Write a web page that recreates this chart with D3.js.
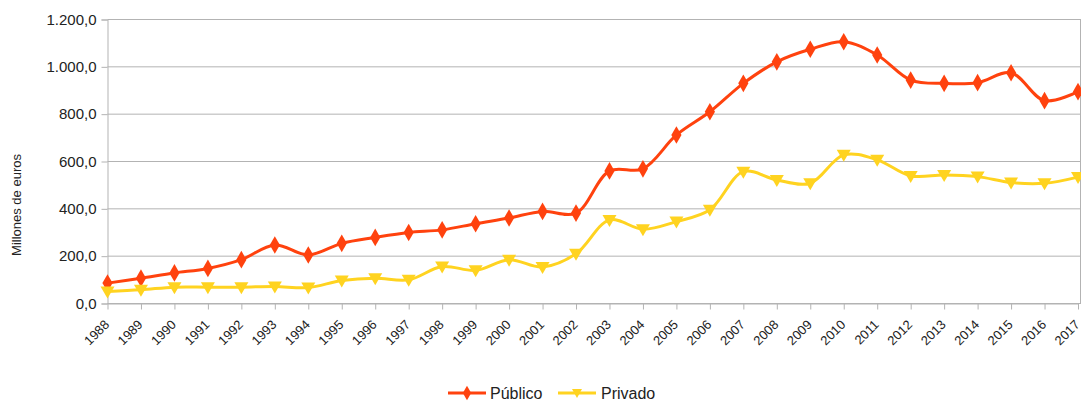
<!DOCTYPE html>
<html><head><meta charset="utf-8">
<script src="https://cdn.jsdelivr.net/npm/d3@7"></script>
<style>body{margin:0;background:#fff}svg{display:block;font-family:"Liberation Sans",Arial,sans-serif}</style>
</head><body><svg id="c" width="1081" height="406"></svg>
<script>
const years = d3.range(1988, 2018).map(String);
const publico = [84,105,127,146,183,245,203,252,277,298,309,335,359,387,380,558,567,710,808,928,1019,1072,1104,1048,942,928,931,973,855,893];
const privado = [49,56,67,67,67,70,65,95,105,98,154,138,183,152,208,351,312,344,394,555,520,506,626,605,537,541,534,509,506,532];
const yTicks = [0,200,400,600,800,1000,1200];
const seriesNames = ["Público","Privado"];
const colors = ["#ff420e","#ffd320"];

const svg = d3.select("#c");
const x = d3.scalePoint().domain(years).range([107.5, 1078]);
const y = d3.scaleLinear().domain([0,1200]).range([303, 19]);
const fmt = v => d3.formatLocale({decimal:",",thousands:".",grouping:[3]}).format(",.1f")(v);

// grid
svg.append("g").selectAll("line").data(yTicks).join("line")
  .attr("x1",107.5).attr("x2",1081).attr("y1",d=>y(d)+0.5).attr("y2",d=>y(d)+0.5)
  .attr("stroke","#b3b3b3").attr("stroke-width",1);
svg.append("line").attr("x1",1080.5).attr("x2",1080.5).attr("y1",y(1200)).attr("y2",y(0)).attr("stroke","#b3b3b3");

// y axis
const ya = svg.append("g").attr("transform","translate(107.5,0.5)")
  .call(d3.axisLeft(y).tickValues(yTicks).tickFormat(fmt).tickSize(6).tickPadding(5));
ya.select(".domain").attr("stroke","#b3b3b3");
ya.selectAll(".tick line").attr("stroke","#b3b3b3");
ya.selectAll("text").attr("font-size",15).attr("fill","#222").attr("font-family","Liberation Sans, Arial, sans-serif");

// x axis
const xa = svg.append("g").attr("transform","translate(0,303.5)")
  .call(d3.axisBottom(x).tickSize(6).tickSizeOuter(0));
xa.select(".domain").attr("stroke","#b3b3b3");
xa.selectAll(".tick line").attr("stroke","#b3b3b3");
xa.selectAll("text").attr("font-size",13).attr("fill","#222").attr("font-family","Liberation Sans, Arial, sans-serif")
  .attr("text-anchor","end").attr("dy",null).attr("y",0)
  .attr("transform","translate(2,22) rotate(-45)");

// y label
svg.append("text").attr("transform","translate(21,205) rotate(-90)").attr("text-anchor","middle")
  .attr("font-size",13).attr("fill","#222").text("Millones de euros");

const line = d3.line().x((d,i)=>x(years[i])).y(d=>y(d)).curve(d3.curveCatmullRom.alpha(0.5));
const diamond = d3.symbol().type(d3.symbolDiamond).size(90)();
const tri = "M-7,-5L7,-5L0,7Z";

[publico, privado].forEach((s,k)=>{
  svg.append("path").attr("d",line(s)).attr("fill","none").attr("stroke",colors[k]).attr("stroke-width",3);
  svg.append("g").selectAll("path").data(s).join("path")
    .attr("transform",(d,i)=>`translate(${x(years[i])},${y(d)})`)
    .attr("d", k===0 ? diamond : tri).attr("fill",colors[k]);
});

// legend
const leg = [{x0:448, tx:490},{x0:558, tx:601}];
leg.forEach((l,k)=>{
  const g = svg.append("g");
  g.append("line").attr("x1",l.x0).attr("x2",l.x0+38).attr("y1",393).attr("y2",393).attr("stroke",colors[k]).attr("stroke-width",3);
  g.append("path").attr("transform",`translate(${l.x0+19},393)`).attr("d", k===0?d3.symbol().type(d3.symbolDiamond).size(60)():"M-5,-4L5,-4L0,5Z").attr("fill",colors[k]);
  g.append("text").attr("x",l.tx).attr("y",399).attr("font-size",16).attr("fill","#222").text(seriesNames[k]);
});
</script></body></html>
